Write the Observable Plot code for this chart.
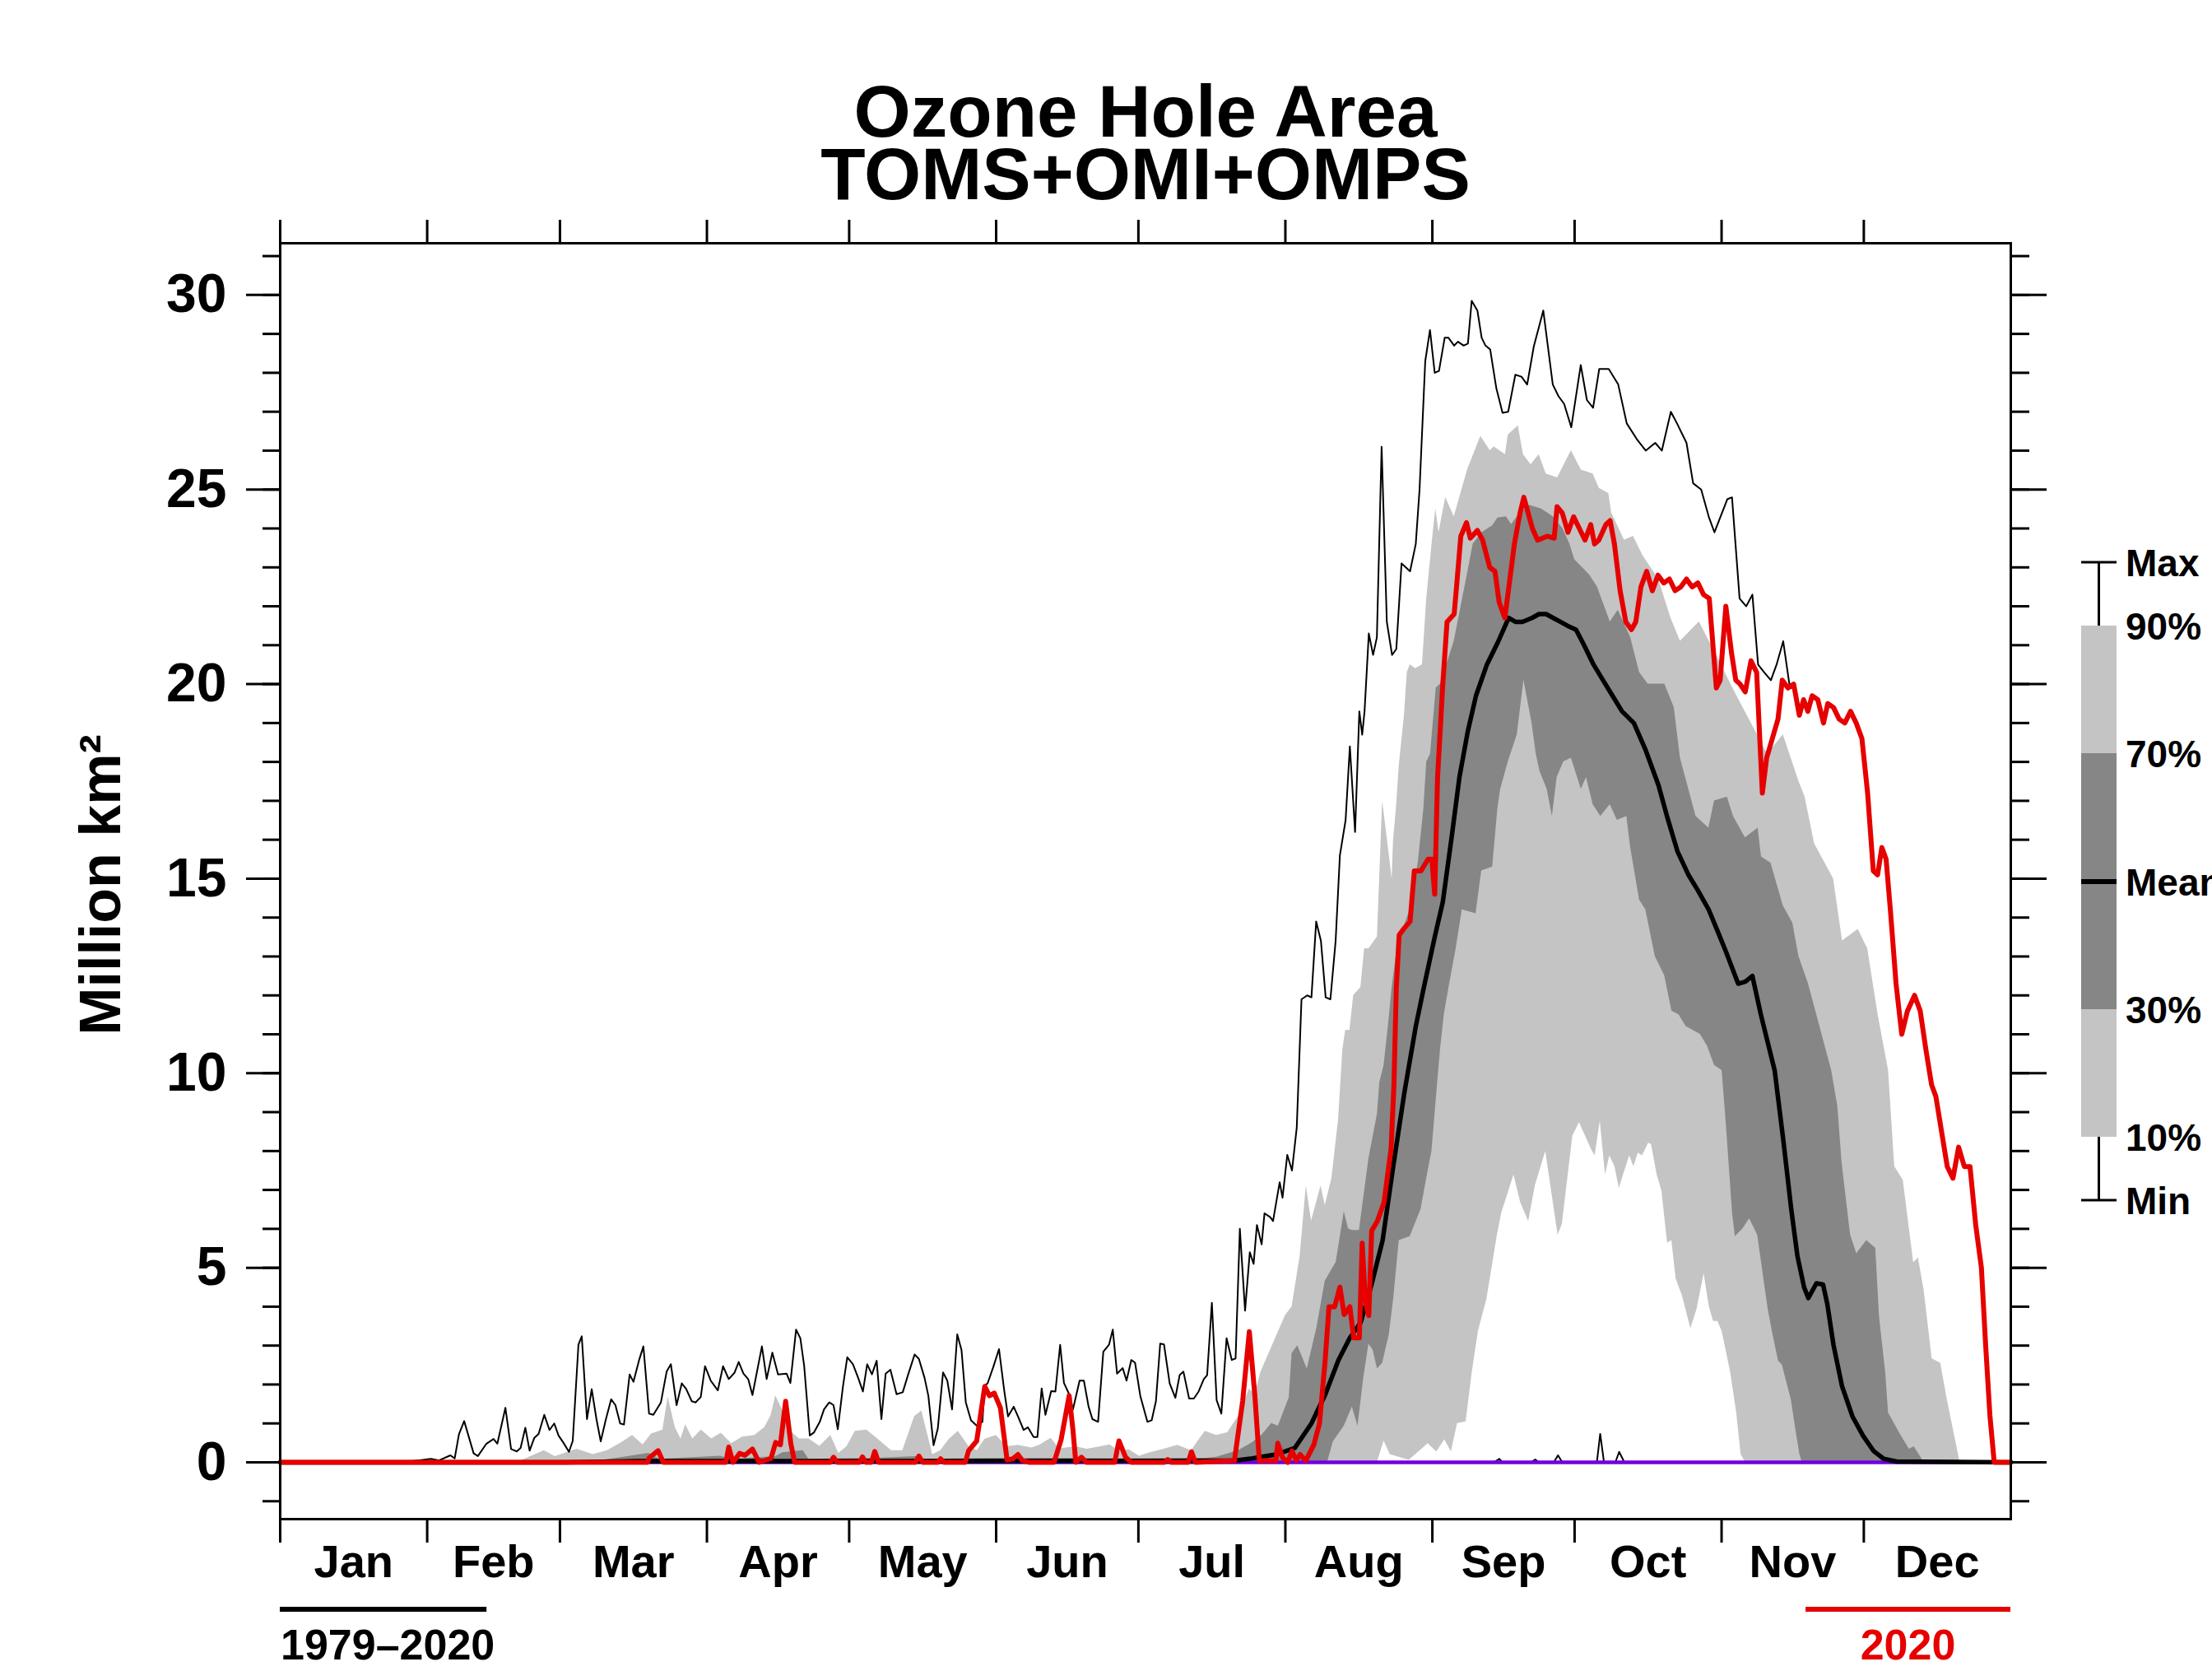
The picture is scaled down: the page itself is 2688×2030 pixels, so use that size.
<!DOCTYPE html>
<html><head><meta charset="utf-8">
<script src="https://cdn.jsdelivr.net/npm/d3@7"></script>
<script src="https://cdn.jsdelivr.net/npm/@observablehq/plot@0.6"></script>
<style>html,body{margin:0;padding:0;background:#fff;overflow:hidden}</style>
</head><body><div id="chart"></div>
<script>
// ---------- DATA (day of year, Jan 1 = 0; values in million km²) ----------
const monthStarts = [0,31,59,90,120,151,181,212,243,273,304,334];
const monthNames = ["Jan","Feb","Mar","Apr","May","Jun","Jul","Aug","Sep","Oct","Nov","Dec"];
const majorY = [0,5,10,15,20,25,30];
const minorY = d3.range(-1, 32);

const seriesMax = [[0,0],[27.8,0.03],[31.8,0.09],[33.5,0.05],[35.9,0.18],[36.8,0.1],[37.7,0.72],[38.8,1.06],[40.8,0.23],[41.7,0.16],[43.5,0.48],[45,0.6],[45.8,0.48],[47.5,1.4],[48.7,0.34],[49.9,0.28],[50.7,0.37],[51.7,0.89],[52.6,0.3],[53.6,0.63],[54.5,0.73],[55.7,1.22],[56.8,0.83],[57.8,1.0],[58.7,0.69],[59.7,0.51],[60.9,0.27],[61.7,0.55],[62.9,3.02],[63.6,3.24],[64.7,1.11],[65.7,1.88],[66.7,1.11],[67.6,0.54],[68.7,1.11],[69.8,1.62],[70.7,1.47],[71.7,1.0],[72.5,0.97],[73.7,2.26],[74.5,2.07],[75.7,2.63],[76.6,2.98],[77.8,1.25],[78.7,1.22],[80.3,1.54],[81.5,2.33],[82.4,2.52],[83.6,1.47],[84.7,2.03],[85.6,1.89],[86.8,1.57],[87.6,1.54],[88.7,1.68],[89.6,2.47],[90.8,2.1],[92.3,1.85],[93.4,2.47],[94.6,2.14],[95.8,2.3],[96.7,2.58],[97.7,2.28],[98.7,2.14],[99.6,1.73],[101.6,2.98],[102.6,2.14],[103.8,2.82],[105,2.26],[106.8,2.28],[107.6,2.04],[108.8,3.41],[109.7,3.19],[110.5,2.49],[111.7,0.69],[112.6,0.77],[113.8,1.04],[114.7,1.36],[115.8,1.54],[116.7,1.47],[117.6,0.85],[118.7,1.96],[119.6,2.7],[120.8,2.52],[121.9,2.17],[122.9,1.82],[123.8,2.52],[124.8,2.26],[125.8,2.61],[126.8,1.11],[127.7,2.28],[128.7,2.38],[130,1.75],[131.3,1.8],[132.4,2.24],[133.8,2.77],[134.7,2.66],[135.9,2.17],[136.7,1.71],[137.8,0.44],[138.7,0.87],[139.8,2.31],[140.7,2.1],[141.7,1.36],[142.8,3.29],[143.7,2.88],[144.6,1.54],[145.7,1.08],[146.9,0.94],[148.1,1.04],[148.6,1.97],[149.2,2.03],[150.4,2.45],[151.6,2.91],[152.7,1.85],[153.5,1.18],[154.7,1.43],[155.6,1.18],[156.8,0.83],[157.7,0.9],[158.9,0.65],[159.7,0.65],[160.6,1.9],[161.4,1.22],[162.6,1.83],[163.5,1.82],[164.5,3.02],[165.3,2.04],[166.4,1.75],[167.2,1.36],[168.6,2.1],[169.5,2.1],[170.5,1.43],[171.3,1.11],[172.5,1.04],[173.6,2.84],[174.8,3.02],[175.6,3.41],[176.5,2.28],[177.7,2.42],[178.5,2.1],[179.5,2.63],[180.3,2.56],[181.4,1.71],[182.9,1.04],[183.8,1.08],[184.7,1.57],[185.6,3.05],[186.4,3.03],[187.6,2.03],[188.8,1.66],[189.7,2.24],[190.5,2.33],[191.7,1.64],[192.7,1.64],[193.7,1.82],[194.8,2.14],[195.5,2.24],[196.5,4.1],[197.5,1.6],[198.5,1.25],[199.6,3.19],[200.7,2.63],[201.5,2.67],[202.4,6.0],[203.5,3.9],[204.5,5.4],[205.3,5.1],[206,6.1],[207,5.6],[207.6,6.4],[208.8,6.3],[209.4,6.2],[210.8,7.2],[211.4,6.8],[212.4,7.9],[213.4,7.5],[214.4,8.6],[215.4,11.9],[216.6,12.0],[217.5,11.95],[218.5,13.9],[219.5,13.4],[220.5,11.95],[221.5,11.9],[222.6,13.4],[223.5,15.6],[224.7,16.5],[225.6,18.4],[226.7,16.2],[227.6,19.3],[228.2,18.7],[228.7,19.3],[229.6,21.3],[230.5,20.75],[231.3,21.2],[232.3,26.1],[233.4,21.6],[234.5,20.75],[235.4,20.9],[236.5,23.1],[238.3,22.9],[239.5,23.6],[240.3,25.0],[241.5,28.3],[242.5,29.1],[243.5,28.0],[244.4,28.05],[245.6,28.9],[246.4,28.9],[247.6,28.7],[248.4,28.8],[249.6,28.7],[250.5,28.75],[251.3,29.85],[252.5,29.6],[253.4,28.9],[254.2,28.7],[255.2,28.6],[256.5,27.6],[257.8,26.97],[259,27.0],[260.5,27.95],[261.8,27.9],[263,27.7],[264.4,28.68],[266.4,29.6],[268.4,27.7],[269.6,27.4],[270.8,27.2],[272.3,26.6],[274.3,28.2],[275.6,27.3],[276.9,27.1],[278.2,28.1],[280.2,28.1],[282.2,27.7],[284,26.7],[286.1,26.3],[288,26.0],[290,26.2],[291.4,26.0],[293.3,27.0],[294.6,26.7],[296.6,26.2],[298,25.16],[299.7,25.0],[301.3,24.3],[302.5,23.9],[305.2,24.75],[306.2,24.8],[307.8,22.2],[309.2,22.0],[310.5,22.3],[311.7,20.5],[313,20.3],[314.4,20.1],[315.6,20.5],[317,21.1],[318.3,20.0],[319.2,20.0],[320.4,19.2],[321.3,19.6],[322.2,19.3],[323.1,19.7],[324.3,19.6],[325.5,19.0],[326.4,19.5],[327.6,19.4],[328.8,19.1],[330,19.0],[331.2,19.3],[332.4,19.0],[333.6,18.6],[334.8,17.2],[336,15.2],[336.9,15.1],[337.8,15.8],[338.7,15.5],[339.6,14.2],[340.8,12.3],[342,11.0],[343.2,11.6],[344.7,12.0],[345.9,11.6],[347.1,10.6],[348.3,9.7],[349.2,9.4],[350.4,8.5],[351.6,7.6],[352.8,7.3],[354,8.1],[355.2,7.6],[356.4,7.6],[357.6,6.1],[358.8,5.0],[359.7,3.0],[360.6,1.2],[361.5,0],[365,0]];

const series90 = [[0,0],[50,0],[51,0.05],[55.7,0.3],[58,0.15],[62.6,0.34],[66,0.2],[69,0.3],[72,0.51],[74.3,0.69],[76.5,0.45],[78.3,0.73],[80.7,0.83],[81.8,1.68],[83.3,0.9],[84.5,0.6],[85.5,0.97],[87,0.6],[88.8,0.83],[91,0.6],[93,0.75],[95.2,0.48],[97.5,0.65],[100.1,0.69],[102.2,0.9],[103.5,1.2],[104.5,1.71],[105.7,1.4],[108,0.76],[109.5,0.6],[111.5,0.6],[113.8,0.41],[116.1,0.69],[117.8,0.23],[119.5,0.4],[121.3,0.8],[123.7,0.83],[126,0.6],[128.9,0.3],[131.3,0.3],[133.8,1.18],[135.3,1.32],[137.6,0.2],[139.3,0.3],[141.1,0.59],[143,0.8],[145.2,0.41],[147,0.3],[148.6,0.59],[151,0.69],[153.3,0.4],[155.6,0.44],[158.5,0.37],[160.3,0.45],[162.6,0.62],[164.3,0.35],[167.8,0.4],[170.2,0.34],[173,0.4],[175,0.45],[177.1,0.27],[179,0.33],[181.2,0.16],[183.5,0.25],[186.4,0.34],[189.3,0.44],[192.2,0.3],[194,0.62],[195.1,0.8],[197.5,0.69],[199.8,0.76],[202.1,1.18],[204.4,1.89],[205.6,1.74],[206.8,2.31],[209.4,3.04],[212,3.77],[213.4,4.0],[215.1,5.3],[216.4,7.1],[217.5,6.2],[219.5,7.1],[220.4,6.6],[221.8,7.3],[223.2,8.8],[224.1,10.6],[224.7,11.1],[225.6,11.1],[226.4,12.0],[227.9,12.2],[228.7,13.2],[229.6,13.2],[231.4,13.5],[232.5,17.0],[234.5,15.0],[234.8,16.0],[235.4,16.8],[236,17.9],[237.1,19.2],[237.7,20.3],[238.3,20.5],[239.5,20.4],[240.9,20.5],[241.8,22.2],[243,23.7],[243.7,24.5],[244.4,23.9],[245.8,24.8],[247.6,24.3],[250.4,25.5],[253.2,26.37],[255.2,26.0],[256,26.1],[258.4,25.9],[259,26.4],[261.1,26.64],[262.2,25.9],[263.8,25.64],[265.5,25.9],[267,25.4],[269.4,25.3],[272.3,26.0],[274.4,25.5],[276.9,25.4],[278.2,25.03],[280.2,24.9],[280.8,24.4],[283.5,23.7],[285.4,23.8],[287.4,23.3],[290.7,22.7],[293.3,21.7],[295.3,21.1],[299.3,21.6],[303.9,20.5],[307.2,19.7],[309.8,19.1],[313.7,18.2],[317,18.7],[320.3,17.5],[321.6,17.1],[323.6,15.9],[327.6,15.0],[329.5,13.4],[332.8,13.7],[334.8,13.2],[337,11.5],[339.2,10.07],[340.5,7.6],[342.3,7.25],[344.5,5.13],[345.5,5.25],[346.7,4.42],[348.4,2.66],[350.2,2.55],[351.6,1.6],[354.2,0.05],[355,0],[365,0]];

const series70 = [[0,0],[65,0],[68,0.05],[77.8,0.23],[80,0.08],[92.9,0.16],[95,0.08],[104.5,0.15],[106,0.25],[110.3,0.3],[111.5,0.08],[125,0.1],[134,0.15],[136,0.08],[150,0.1],[165,0.1],[180,0.08],[195,0.1],[197.5,0.13],[202.1,0.3],[205,0.5],[207,0.69],[209.1,1.0],[210.5,0.93],[212.8,1.66],[213.4,2.8],[214.6,3.0],[216.6,2.4],[218.6,3.44],[220.4,4.66],[222.7,5.14],[224.4,6.44],[225.3,6.0],[226.1,5.96],[227.6,5.96],[229.6,7.8],[231.4,8.95],[231.9,9.76],[232.8,10.2],[233.7,11.2],[234.5,12.2],[236,13.6],[237.1,13.8],[238.3,14.2],[240,15.4],[241.2,16.8],[241.8,18.0],[242.6,18.2],[243.8,19.9],[244.7,20.0],[247.6,21.1],[250.5,22.9],[251.6,23.6],[253.5,23.9],[255.7,24.07],[256.8,24.27],[258.6,24.3],[259.7,24.1],[261.5,24.4],[263.5,24.6],[266,24.5],[268.5,24.3],[270.5,24.0],[272,23.6],[273,23.2],[276.2,22.8],[277.8,22.5],[279.6,21.9],[280.5,21.6],[282.2,21.9],[284.8,21.2],[286.7,20.3],[288.5,20.0],[292,20.0],[294,19.4],[295.3,18.1],[298.6,16.6],[301.3,16.3],[302.5,17.0],[305.2,17.1],[306.5,16.6],[309,16.05],[311.7,16.3],[312.4,15.56],[314.4,15.4],[317,14.3],[319,13.86],[320.3,13.0],[322.3,12.3],[324.5,11.3],[327.2,10.07],[328.5,9.15],[329.4,7.69],[331.2,5.84],[332.5,5.36],[334.6,5.7],[336.5,5.5],[337.3,3.73],[338.6,2.3],[339.2,1.27],[341.8,0.7],[343.6,0.34],[344.6,0.4],[346.7,0],[365,0]];

const series30 = [[0,0],[220.9,0],[222.1,0.53],[224.4,0.93],[226.1,1.42],[227.3,0.93],[228.5,2.15],[229.6,3.04],[230.5,2.88],[231.4,2.4],[232.5,2.55],[233.9,3.28],[234.8,4.17],[236,5.7],[238.3,5.8],[240.6,6.5],[241.8,7.3],[242.9,8.0],[244.1,9.76],[244.7,10.6],[245.5,11.5],[246.5,12.2],[248,13.2],[249.3,14.2],[252.2,14.1],[253.4,15.2],[255.7,15.3],[256.8,16.8],[257.4,17.3],[259,18.0],[260.9,18.7],[262.3,20.1],[264,19.0],[264.9,18.2],[265.7,17.75],[267.2,17.3],[268.3,16.6],[269.3,17.6],[270.7,18.0],[272.3,18.1],[274.4,17.3],[275.5,17.6],[276.9,16.9],[278.5,16.6],[280.5,16.9],[282,16.5],[284,16.6],[284.8,15.8],[286.7,14.45],[288,14.2],[290,13.0],[292,12.5],[293.5,11.6],[295,11.5],[296.5,11.2],[298,11.1],[299.5,11.0],[301,10.7],[302.5,10.2],[304.1,10.07],[305,8.66],[306.3,6.4],[306.9,5.8],[308.5,6.0],[309.9,6.26],[311.6,5.84],[313.8,3.94],[314.8,3.3],[316,2.6],[316.8,2.5],[318.7,1.6],[319.7,0.8],[320.5,0.2],[321,0],[365,0]];

const series10 = [[0,0],[231.4,0],[232.8,0.55],[234.1,0.2],[238.1,0.05],[242.1,0.48],[243.9,0.27],[245.6,0.58],[247,0.27],[248.3,1.0],[250.1,1.04],[251.4,2.31],[252.7,3.37],[254.5,4.2],[256.7,5.84],[257.6,6.4],[260.2,7.39],[261.6,6.68],[263.3,6.19],[264.7,7.11],[266.9,7.99],[269.5,5.84],[270.4,6.12],[272.6,8.38],[274,8.73],[275.3,8.38],[276.6,8.03],[277.3,7.88],[278.4,8.77],[279.5,7.39],[280.4,7.88],[281.5,7.6],[282.4,7.04],[283.3,7.39],[284.6,7.88],[285.5,7.6],[286.4,7.95],[287.3,7.88],[288.6,8.2],[289.2,8.17],[290.4,7.39],[291.4,6.97],[292.6,5.63],[293.5,5.7],[294.4,4.71],[295.7,4.29],[297.5,3.44],[298.8,3.93],[300.3,4.85],[301.4,4.0],[302.3,3.62],[303.2,3.62],[304.1,3.37],[305.9,2.31],[307.2,1.25],[308.1,0.2],[309,0],[365,0]];

const seriesMean = [[0,0],[60,0],[75,0.03],[200,0.04],[201.25,0.04],[205,0.1],[210,0.2],[214,0.37],[217.5,1.0],[220.4,1.74],[223.2,2.63],[225.6,3.2],[227.9,3.6],[230.2,4.58],[232.5,5.7],[234.8,7.65],[237.1,9.5],[239.5,11.2],[241.2,12.2],[243.5,13.5],[245.2,14.4],[247,16.0],[248.7,17.6],[250.5,18.8],[252.2,19.7],[254.5,20.5],[256.8,21.07],[259.1,21.7],[260.5,21.6],[262,21.6],[264,21.7],[265.5,21.8],[267,21.8],[268.5,21.7],[270,21.6],[271.5,21.5],[273.3,21.4],[275,21.0],[277,20.5],[279,20.1],[281,19.7],[283,19.3],[285.5,19.0],[288,18.3],[290.7,17.4],[292.5,16.6],[294.7,15.7],[297,15.1],[299,14.7],[301.3,14.2],[303,13.7],[305,13.1],[307.5,12.3],[309,12.35],[310.5,12.5],[312.3,11.5],[315.2,10.07],[317,8.3],[318.7,6.5],[320,5.3],[321.4,4.5],[322.3,4.22],[324,4.6],[325.4,4.57],[326.3,4.07],[327.6,3.02],[329.4,1.96],[331.6,1.18],[333.8,0.69],[336,0.3],[338.2,0.09],[340.9,0.02],[365,0]];

const seriesMin = [[0,0],[256,0],[257.1,0.09],[257.8,0],[263.8,0],[264.7,0.07],[265.5,0],[268.6,0],[269.5,0.18],[270.4,0],[277.7,0],[278.4,0.73],[279.2,0],[281.6,0],[282.4,0.27],[283.5,0],[365,0]];

const series2020 = [[0,0],[77.5,0],[77.8,0.11],[79.7,0.3],[80.8,0],[94,0],[94.6,0.39],[95.5,0],[96.9,0.23],[98,0.18],[99.6,0.34],[101,0],[103.5,0.1],[104.5,0.51],[105.5,0.45],[106.6,1.57],[107.7,0.48],[108.5,0],[116,0],[116.7,0.13],[117.5,0],[122.2,0],[122.8,0.14],[123.5,0],[124.7,0],[125.4,0.28],[126.2,0],[134,0],[134.7,0.16],[135.5,0],[138.7,0],[139.3,0.09],[140,0],[144.5,0],[145.2,0.3],[146.9,0.55],[148.6,1.95],[149.6,1.71],[150.6,1.78],[151.9,1.4],[153.3,0.06],[154.5,0.09],[155.6,0.2],[156.5,0.05],[158,0],[163.2,0],[164.7,0.58],[166.4,1.71],[167.2,0.83],[167.8,0],[169,0.13],[170,0],[176,0],[176.9,0.55],[178.3,0.13],[179.5,0],[186.5,0],[187.2,0.07],[188,0],[191.5,0],[192.2,0.27],[193,0],[201.25,0.04],[203,1.58],[204.4,3.36],[205.6,1.66],[206.5,0.04],[210,0.04],[210.4,0.49],[211.4,0.12],[212.5,0],[213.4,0.29],[214.3,0.05],[215.1,0.2],[216.3,0.04],[218,0.45],[219.2,1.0],[220.4,2.63],[221.2,4.0],[222.4,4.0],[223.5,4.5],[224.4,3.8],[225.6,4.0],[226.4,3.2],[227.6,3.2],[228.2,5.63],[228.9,4.1],[229.6,3.77],[230.2,5.95],[231.4,6.2],[232.8,6.68],[234.3,8.06],[234.9,9.7],[235.4,12.2],[236,13.55],[236.9,13.7],[238.3,13.9],[239.2,15.2],[240.6,15.2],[242.1,15.5],[242.9,15.5],[243.5,14.6],[244.1,17.6],[245.2,20.0],[246.1,21.6],[247.6,21.8],[248.1,22.5],[249,23.8],[250.2,24.15],[251,23.75],[252.5,23.95],[253.6,23.7],[255.1,23.0],[256.2,22.9],[257.1,22.1],[258.3,21.7],[260.3,23.6],[261.5,24.4],[262.3,24.8],[264.1,24.0],[265.2,23.7],[267.2,23.8],[268.7,23.75],[269.3,24.56],[270.4,24.4],[271.6,23.9],[272.8,24.3],[274,24.0],[275.2,23.7],[276.4,24.1],[277.2,23.6],[278.1,23.7],[279.6,24.1],[280.5,24.2],[281.4,23.6],[282.6,22.4],[283.8,21.6],[285,21.4],[285.9,21.6],[287,22.5],[288.2,22.9],[289.4,22.4],[290.6,22.8],[291.8,22.6],[293,22.7],[294.2,22.4],[295.4,22.5],[296.6,22.7],[297.8,22.5],[299,22.6],[300.2,22.3],[301.4,22.2],[302.9,19.9],[303.7,20.1],[304.9,22.0],[306.1,20.8],[307,20.1],[307.9,20.0],[309,19.8],[310.2,20.6],[311.4,20.3],[312.6,17.2],[313.5,18.1],[314.7,18.6],[315.9,19.1],[316.8,20.1],[318,19.9],[319.2,20.0],[320.4,19.2],[321.3,19.6],[322.2,19.3],[323.1,19.7],[324.3,19.6],[325.5,19.0],[326.4,19.5],[327.6,19.4],[328.8,19.1],[330,19.0],[331.2,19.3],[332.4,19.0],[333.6,18.6],[334.8,17.2],[336,15.2],[336.9,15.1],[337.8,15.8],[338.7,15.5],[339.6,14.2],[340.8,12.3],[342,11.0],[343.2,11.6],[344.7,12.0],[345.9,11.6],[347.1,10.6],[348.3,9.7],[349.2,9.4],[350.4,8.5],[351.6,7.6],[352.8,7.3],[354,8.1],[355.2,7.6],[356.4,7.6],[357.6,6.1],[358.8,5.0],[359.7,3.0],[360.6,1.2],[361.5,0],[365,0]];

const zeroLine = [[0,0],[365,0]];
const periodClimo = [0, 43.6];    // day span of the 1979–2020 key bar
const period2020 = [321.8, 365];  // day span of the 2020 key bar
const titleLines = ["Ozone Hole Area", "TOMS+OMI+OMPS"];
const legendLabels = ["Max","90%","70%","Mean","30%","10%","Min"];

// ---------- RENDER ----------
const FONT = "'Liberation Sans', Arial, Helvetica, sans-serif";
const LIGHT = "#c4c4c4", DARK = "#868686", RED = "#e60000", PURPLE = "#7000e0";
const rows = a => a.map(([day, v]) => ({day, v}));
const monthMids = monthStarts.map((d, i) => (d + (i < 11 ? monthStarts[i + 1] : 365)) / 2);

const plot = Plot.plot({
  width: 2688, height: 2030,
  marginLeft: 340, marginRight: 245, marginTop: 295, marginBottom: 185,
  style: `font-family: ${FONT}; font-weight: bold; background: white; color: black;`,
  x: {domain: [0, 365], axis: null, label: null},
  y: {domain: [-1.46, 31.33], axis: null, label: null},
  marks: [
    Plot.areaY(rows(series90), {x: "day", y: "v", fill: LIGHT}),
    Plot.areaY(rows(series70), {x: "day", y: "v", fill: DARK}),
    Plot.areaY(rows(series30), {x: "day", y: "v", fill: LIGHT}),
    Plot.areaY(rows(series10), {x: "day", y: "v", fill: "white"}),
    Plot.lineY(rows(seriesMin), {x: "day", y: "v", stroke: "black", strokeWidth: 2}),
    Plot.lineY(rows(zeroLine), {x: "day", y: "v", stroke: PURPLE, strokeWidth: 4.5}),
    Plot.lineY(rows(seriesMax), {x: "day", y: "v", stroke: "black", strokeWidth: 2}),
    Plot.lineY(rows(seriesMean), {x: "day", y: "v", stroke: "black", strokeWidth: 5.5}),
    Plot.lineY(rows(series2020), {x: "day", y: "v", stroke: RED, strokeWidth: 6}),
    Plot.frame({stroke: "black", strokeWidth: 3}),
    Plot.axisY(minorY, {anchor: "left", tickSize: 21, tickFormat: () => "", strokeWidth: 3, label: null}),
    Plot.axisY(majorY, {anchor: "left", tickSize: 41, tickPadding: 24, fontSize: 66, fontWeight: "bold", strokeWidth: 3, label: null}),
    Plot.axisY(minorY, {anchor: "right", tickSize: 22, tickFormat: () => "", strokeWidth: 3, label: null}),
    Plot.axisY(majorY, {anchor: "right", tickSize: 43, tickFormat: () => "", strokeWidth: 3, label: null}),
    Plot.axisX(monthStarts, {anchor: "top", tickSize: 29, tickFormat: () => "", strokeWidth: 3, label: null}),
    Plot.axisX(monthStarts, {anchor: "bottom", tickSize: 29, tickFormat: () => "", strokeWidth: 3, label: null}),
    Plot.axisX(monthMids, {anchor: "bottom", tickSize: 0, tickPadding: 31, fontSize: 56, fontWeight: "bold",
      tickFormat: d => monthNames[monthMids.indexOf(d)], label: null})
  ]
});
document.getElementById("chart").appendChild(plot);

const svgEl = plot.tagName.toLowerCase() === "svg" ? plot : plot.querySelector("svg");
const svg = d3.select(svgEl);
const xs = plot.scale("x");

// Title (one text element, two lines)
const title = svg.append("text").attr("text-anchor", "middle")
  .attr("font-family", FONT).attr("font-weight", "bold").attr("font-size", 89).attr("fill", "black");
title.append("tspan").attr("x", 1392).attr("y", 166).text(titleLines[0]);
title.append("tspan").attr("x", 1392).attr("y", 242).text(titleLines[1]);

// Y axis title
svg.append("text").attr("transform", "translate(146,1075) rotate(-90)").attr("text-anchor", "middle")
  .attr("font-family", FONT).attr("font-weight", "bold").attr("font-size", 70).attr("fill", "black")
  .text("Million km²");

// Period keys below the axis
const xc0 = xs.apply(periodClimo[0]), xc1 = xs.apply(periodClimo[1]);
const xr0 = xs.apply(period2020[0]), xr1 = xs.apply(period2020[1]);
svg.append("line").attr("x1", xc0).attr("x2", xc1).attr("y1", 1955).attr("y2", 1955)
  .attr("stroke", "black").attr("stroke-width", 6);
svg.append("text").attr("x", xc0 + 1).attr("y", 2016).attr("text-anchor", "start")
  .attr("font-family", FONT).attr("font-weight", "bold").attr("font-size", 52).attr("fill", "black")
  .text("1979–2020");
svg.append("line").attr("x1", xr0).attr("x2", xr1).attr("y1", 1955).attr("y2", 1955)
  .attr("stroke", RED).attr("stroke-width", 6);
svg.append("text").attr("x", (xr0 + xr1) / 2).attr("y", 2016).attr("text-anchor", "middle")
  .attr("font-family", FONT).attr("font-weight", "bold").attr("font-size", 52).attr("fill", RED)
  .text("2020");

// Legend (box-and-whisker key)
const lg = svg.append("g");
const bx = 2529, bw = 43, cx = bx + bw / 2;
const ly = {max: 683, p90: 760, p70: 915, mean: 1071, p30: 1226, p10: 1381, min: 1458};
lg.append("line").attr("x1", cx).attr("x2", cx).attr("y1", ly.max).attr("y2", ly.p90).attr("stroke", "black").attr("stroke-width", 3);
lg.append("line").attr("x1", bx).attr("x2", bx + bw).attr("y1", ly.max).attr("y2", ly.max).attr("stroke", "black").attr("stroke-width", 3);
lg.append("line").attr("x1", cx).attr("x2", cx).attr("y1", ly.p10).attr("y2", ly.min).attr("stroke", "black").attr("stroke-width", 3);
lg.append("line").attr("x1", bx).attr("x2", bx + bw).attr("y1", ly.min).attr("y2", ly.min).attr("stroke", "black").attr("stroke-width", 3);
lg.append("rect").attr("x", bx).attr("width", bw).attr("y", ly.p90).attr("height", ly.p70 - ly.p90).attr("fill", LIGHT);
lg.append("rect").attr("x", bx).attr("width", bw).attr("y", ly.p70).attr("height", ly.p30 - ly.p70).attr("fill", DARK);
lg.append("rect").attr("x", bx).attr("width", bw).attr("y", ly.p30).attr("height", ly.p10 - ly.p30).attr("fill", LIGHT);
lg.append("line").attr("x1", bx).attr("x2", bx + bw).attr("y1", ly.mean).attr("y2", ly.mean).attr("stroke", "black").attr("stroke-width", 6);
const lys = [ly.max, ly.p90, ly.p70, ly.mean, ly.p30, ly.p10, ly.min];
legendLabels.forEach((t, i) => {
  lg.append("text").attr("x", 2583).attr("y", lys[i]).attr("dy", "0.36em").attr("text-anchor", "start")
    .attr("font-family", FONT).attr("font-weight", "bold").attr("font-size", 46).attr("fill", "black")
    .text(t);
});
</script>
</body></html>
